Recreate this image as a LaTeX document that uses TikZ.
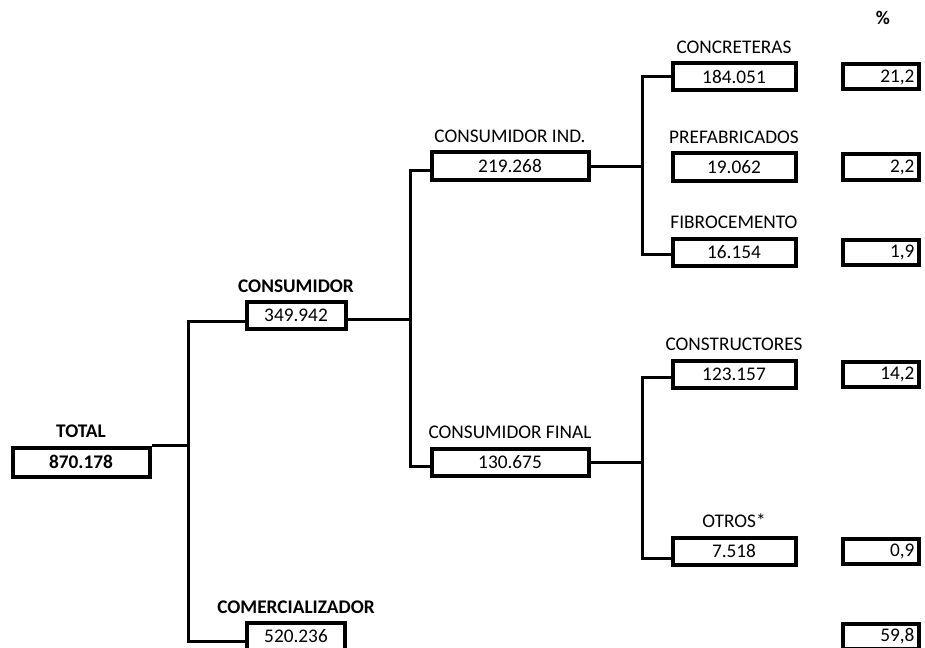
\documentclass[tikz,border=0pt]{standalone}
\usepackage{fontspec}
\setmainfont{Carlito}
\usetikzlibrary{positioning}

\tikzset{
  txt/.style={font=\fontsize{19.3}{23}\selectfont},
  valbox/.style={txt, draw, line width=4pt, minimum width=#1, minimum height=27pt, inner sep=0pt},
  pctbox/.style={txt, draw, line width=4pt, minimum width=76pt, minimum height=25pt, inner sep=0pt, text width=67pt, align=right},
  lbl/.style={txt, inner sep=0pt},
  link/.style={line width=3pt},
}

\begin{document}
\begin{tikzpicture}[x=1pt,y=1pt,yscale=-1,xscale=1]
\useasboundingbox (0,0) rectangle (925,647);
\clip (0,0) rectangle (925,647);

% value boxes
\node [valbox=137pt, font=\fontsize{19.3}{23}\selectfont\bfseries, minimum height=29pt] (tot) at (81,462) {870.178};
\node [valbox=99pt] (cons) at (296,315) {349.942};
\node [valbox=98pt] (com) at (296,636) {520.236};
\node [valbox=157pt] (cind) at (510,166) {219.268};
\node [valbox=157pt] (cfin) at (510,462) {130.675};
\node [valbox=123pt] (conc) at (734,77) {184.051};
\node [valbox=123pt] (pref) at (734,167) {19.062};
\node [valbox=123pt] (fibr) at (734,252) {16.154};
\node [valbox=123pt] (cstr) at (734,374) {123.157};
\node [valbox=123pt] (otr) at (734,551) {7.518};

% percent boxes
\node [pctbox] (pconc) at (881,77) {21,2};
\node [pctbox] (ppref) at (881,167) {2,2};
\node [pctbox] (pfibr) at (881,252) {1,9};
\node [pctbox] (pcstr) at (881,374) {14,2};
\node [pctbox] (potr) at (881,551) {0,9};
\node [pctbox] (pcom) at (881,636) {59,8};

% labels
\node [lbl, font=\fontsize{19.3}{23}\selectfont\bfseries, anchor=base] (pcthead) at (883,25) {\%};
\node [lbl, font=\fontsize{19.3}{23}\selectfont\bfseries, above=8pt of tot] (lbltot) {TOTAL};
\node [lbl, font=\fontsize{19.3}{23}\selectfont\bfseries, above=7pt of cons] (lblcons) {CONSUMIDOR};
\node [lbl, font=\fontsize{19.3}{23}\selectfont\bfseries, above=7pt of com] (lblcom) {COMERCIALIZADOR};
\node [lbl, above=8pt of cind] (lblcind) {CONSUMIDOR IND.};
\node [lbl, above=8pt of cfin] (lblcfin) {CONSUMIDOR FINAL};
\node [lbl, above=8pt of conc] (lblconc) {CONCRETERAS};
\node [lbl, above=8pt of pref] (lblpref) {PREFABRICADOS};
\node [lbl, above=8pt of fibr] (lblfibr) {FIBROCEMENTO};
\node [lbl, above=8pt of cstr] (lblcstr) {CONSTRUCTORES};
\node [lbl, above=8pt of otr] (lblotr) {OTROS*};

% branch lines
\coordinate (s1) at (188,0);
\coordinate (s2) at (410,0);
\coordinate (s3) at (642,0);
% entry points a bit above the box middle
\coordinate (consin) at ([yshift=6pt]cons.west);
\coordinate (comin) at ([yshift=5pt]com.west);
\coordinate (cindin) at ([yshift=5pt]cind.west);
\coordinate (cfinin) at ([yshift=4pt]cfin.west);
\coordinate (consout) at ([yshift=4pt]cons.east);
\coordinate (cindout) at ([yshift=1pt]cind.east);
\coordinate (fibrin) at ([yshift=2pt]fibr.west);
\coordinate (cstrin) at ([yshift=3pt]cstr.west);
\coordinate (otrin) at ([yshift=7pt]otr.west);

\draw [link] (tot.north east) -- (tot.north east -| s1);
\draw [link] (consin) -- (s1 |- consin) -- (s1 |- comin) -- (comin);

\draw [link] (consout) -- (consout -| s2);
\draw [link] (cindin) -- (s2 |- cindin) -- (s2 |- cfinin) -- (cfinin);

\draw [link] (cindout) -- (cindout -| s3);
\draw [link] (conc.west) -- (s3 |- conc.west) -- (s3 |- fibrin) -- (fibrin);

\draw [link] (cfin.east) -- (cfin.east -| s3);
\draw [link] (cstrin) -- (s3 |- cstrin) -- (s3 |- otrin) -- (otrin);

\end{tikzpicture}
\end{document}
